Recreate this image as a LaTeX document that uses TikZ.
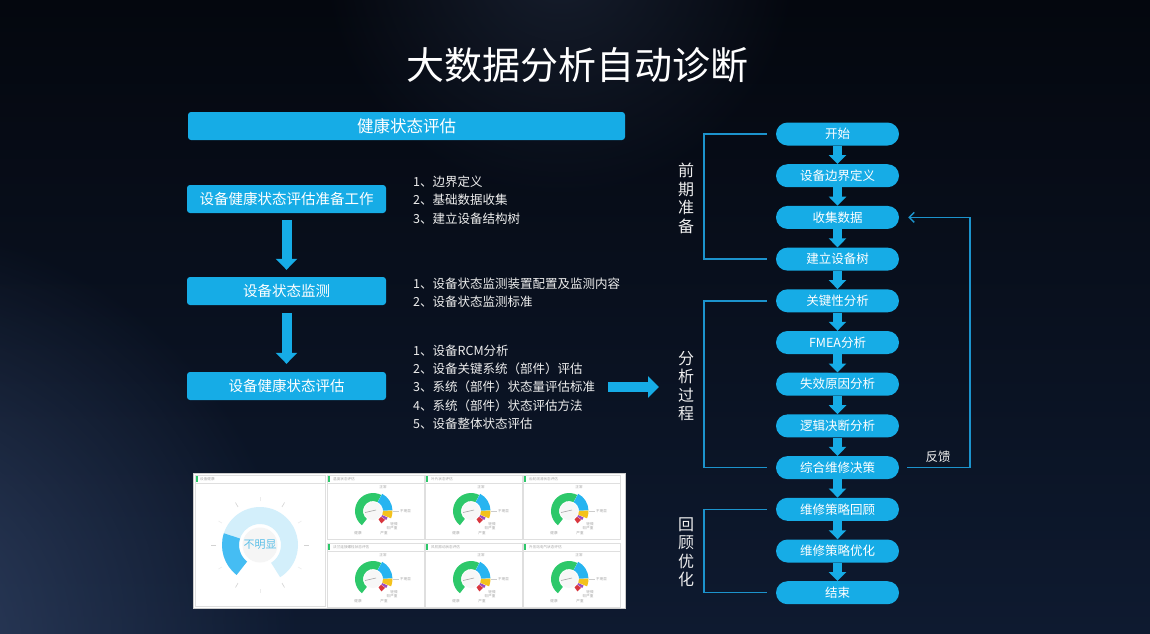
\documentclass[tikz,border=0pt]{standalone}
\usepackage{fontspec}
\setmainfont{Noto Sans CJK SC}
\usetikzlibrary{arrows.meta,fadings}

\definecolor{bgtop}{HTML}{04070E}
\definecolor{bgbot}{HTML}{0E1A30}
\definecolor{glow}{HTML}{3A4C70}
\definecolor{boxblue}{HTML}{16ACE6}
\definecolor{brkblue}{HTML}{1C93CC}
\definecolor{txtwhite}{HTML}{EEEEEE}
\definecolor{gGreen}{HTML}{2DC86A}
\definecolor{gBlue}{HTML}{27B4F0}
\definecolor{gYellow}{HTML}{F4C21C}
\definecolor{gPurple}{HTML}{9B4FC0}
\definecolor{gRed}{HTML}{D9363E}
\definecolor{ringLight}{HTML}{D3EFFB}
\definecolor{ringDark}{HTML}{45BDF3}
\definecolor{bmxText}{HTML}{5BBFE8}

\tikzfading[name=glowfade, inner color=transparent!25, outer color=transparent!100]

\tikzset{
  bluebox/.style={fill=boxblue, rounded corners=3pt, minimum width=199pt, minimum height=28pt,
    text=white, font=\fontsize{14.5}{16}\selectfont, inner sep=0pt},
  pill/.style={fill=boxblue, rounded corners=11.5pt, minimum width=123pt, minimum height=23pt,
    text=white, font=\fontsize{12.5}{14}\selectfont, inner sep=0pt},
  lst/.style={anchor=west, align=left, text=txtwhite, inner sep=0pt,
    font=\fontsize{12.5}{18.3}\selectfont},
  side/.style={align=center, text=txtwhite, inner sep=0pt, font=\fontsize{16}{18.5}\selectfont},
  bigarr/.style={boxblue, line width=10pt, -{Triangle[width=21pt,length=11pt]}},
  pillarr/.style={boxblue, line width=8.5pt, -{Triangle[width=17pt,length=9pt]}},
  brk/.style={brkblue, line width=1.5pt},
  tiny/.style={text=gray!70, inner sep=0pt, font=\fontsize{3.6}{4}\selectfont},
  panel/.style={draw=gray!25, fill=white, line width=0.6pt}
}

\begin{document}
\begin{tikzpicture}[x=1pt, y=-1pt]
    \useasboundingbox (0,0) rectangle (1150,633);
    \shade[top color=bgtop, bottom color=bgbot] (0,0) rectangle (1150,633);
    \fill[glow, path fading=glowfade] (-120,640) circle (420);
    \fill[glow!50!black, path fading=glowfade] (560,-40) circle (240);

    \node[text=white, inner sep=0pt, font=\fontsize{38}{40}\selectfont] (title) at (577,65) {大数据分析自动诊断};

    % left column
    \node[bluebox, minimum width=437pt, font=\fontsize{16.5}{18}\selectfont] (health) at (406.5,126) {健康状态评估};
    \node[bluebox] (prep) at (286.5,199) {设备健康状态评估准备工作};
    \node[bluebox] (mon) at (286.5,291) {设备状态监测};
    \node[bluebox] (eval) at (286.5,386) {设备健康状态评估};

    \draw[bigarr, shorten <=7pt, shorten >=7pt] (prep) -- (mon);
    \draw[bigarr, shorten <=8pt, shorten >=8pt] (mon) -- (eval);

    \node[lst] (lstA) at (413,200) {1、边界定义\\2、基础数据收集\\3、建立设备结构树};
    \node[lst] (lstB) at (413,292.5) {1、设备状态监测装置配置及监测内容\\2、设备状态监测标准};
    \node[lst] (lstC) at (413,387) {1、设备RCM分析\\2、设备关键系统（部件）评估\\3、系统（部件）状态量评估标准\\4、系统（部件）状态评估方法\\5、设备整体状态评估};

    \coordinate (toflow) at (608,387);
    \coordinate (atflow) at (659,387);
    \draw[bigarr] (toflow) -- (atflow);

    % flow chart
    \node[pill] (ks) at (837.5,134) {开始};
    \node[pill] (bj) at (837.5,175.7) {设备边界定义};
    \node[pill] (sj) at (837.5,217.4) {收集数据};
    \node[pill] (js) at (837.5,259.1) {建立设备树};
    \node[pill] (gj) at (837.5,300.8) {关键性分析};
    \node[pill] (fm) at (837.5,342.5) {FMEA分析};
    \node[pill] (sx) at (837.5,384.2) {失效原因分析};
    \node[pill] (lj) at (837.5,425.9) {逻辑决断分析};
    \node[pill] (zh) at (837.5,467.6) {综合维修决策};
    \node[pill] (hg) at (837.5,509.3) {维修策略回顾};
    \node[pill] (yh) at (837.5,551) {维修策略优化};
    \node[pill] (jsu) at (837.5,592.7) {结束};

    \draw[pillarr] (ks) -- (bj);
    \draw[pillarr] (bj) -- (sj);
    \draw[pillarr] (sj) -- (js);
    \draw[pillarr] (js) -- (gj);
    \draw[pillarr] (gj) -- (fm);
    \draw[pillarr] (fm) -- (sx);
    \draw[pillarr] (sx) -- (lj);
    \draw[pillarr] (lj) -- (zh);
    \draw[pillarr] (zh) -- (hg);
    \draw[pillarr] (hg) -- (yh);
    \draw[pillarr] (yh) -- (jsu);

    \draw[brk] ([xshift=-9pt]ks.west) -| ([xshift=-72pt]js.west) -- ([xshift=-9pt]js.west);
    \draw[brk] ([xshift=-9pt]gj.west) -| ([xshift=-72pt]zh.west) -- ([xshift=-9pt]zh.west);
    \draw[brk] ([xshift=-9pt]hg.west) -| ([xshift=-72pt]jsu.west) -- ([xshift=-9pt]jsu.west);

    \node[side] (qq) at (686,198.5) {前\\期\\准\\备};
    \node[side] (fx) at (686,386) {分\\析\\过\\程};
    \node[side] (hy) at (686,552) {回\\顾\\优\\化};

    \draw[brk, -{Straight Barb[length=5pt,width=10pt]}] ([xshift=8pt]zh.east) -- ([xshift=71pt]zh.east) |- ([xshift=9pt]sj.east);
    \node[text=txtwhite, inner sep=0pt, font=\fontsize{12.5}{14}\selectfont] (fk) at (938,457) {反馈};

    % screenshot
    \filldraw[draw=gray!40, fill=white] (193,473) rectangle (625,608);
    \filldraw[panel] (195,475) rectangle (325,606);
    \draw[gray!25] (195,483) -- (325,483);
    \fill[gGreen] (196,476) rectangle (197.5,481.5);
    \node[tiny, anchor=west] (sbA) at (200,479) {设备健康};
    \begin{scope}[shift={(260,545)}, y=1pt]
      \fill[ringLight] (232:38) arc[start angle=232, end angle=-58, radius=38] -- (-58:21) arc[start angle=-58, end angle=232, radius=21] -- cycle;
      \fill[ringDark] (232:38) arc[start angle=232, end angle=162, radius=38] -- (162:21) arc[start angle=162, end angle=232, radius=21] -- cycle;
      \fill[gray!8] (0,0) circle (17.5);
      \foreach \a in {0,60,...,300} \draw[gray!35, line width=0.6pt] (\a:44) -- (\a:49);
      \foreach \a in {30,90,...,330} \draw[gray!15, line width=0.6pt] (\a:44) -- (\a:48);
    \end{scope}
    \node[text=bmxText, inner sep=0pt, font=\fontsize{11}{12}\selectfont] (bmx) at (260,545) {不明显};

    \foreach \px/\py/\ttl in {327/475/温度状态评估, 425/475/叶片状态评估, 523/475/齿轮润滑状态评估,
        327/543/法兰连接螺栓状态评估, 425/543/风机振动状态评估, 523/543/升压站电气状态评估}{
      \filldraw[panel] (\px,\py) rectangle (\px+97,\py+64);
      \draw[gray!25] (\px,\py+8) -- (\px+97,\py+8);
      \fill[gGreen] (\px+1,\py+1) rectangle (\px+2.5,\py+6.5);
      \node[tiny, anchor=west] at (\px+6,\py+4) {\ttl};
      \begin{scope}[shift={(\px+46,\py+36)}, y=1pt]
        \fill[gGreen] (232:18) arc[start angle=232, end angle=63, radius=18] -- (63:10) arc[start angle=63, end angle=232, radius=10] -- cycle;
        \fill[gBlue] (62:19.5) arc[start angle=62, end angle=2, radius=19.5] -- (2:10) arc[start angle=2, end angle=62, radius=10] -- cycle;
        \fill[gYellow] (1:19.5) arc[start angle=1, end angle=-22, radius=19.5] -- (-22:10) arc[start angle=-22, end angle=1, radius=10] -- cycle;
        \fill[gPurple] (-24:16) arc[start angle=-24, end angle=-34, radius=16] -- (-34:10) arc[start angle=-34, end angle=-24, radius=10] -- cycle;
        \fill[gRed] (-36:15) arc[start angle=-36, end angle=-56, radius=15] -- (-56:10) arc[start angle=-56, end angle=-36, radius=10] -- cycle;
        \fill[gray!6] (0,0) circle (9);
        \draw[gray!70, line width=0.6pt] (-8,-1.5) -- (3,1);
        \draw[gray!40, line width=0.3pt] (20,0) -- (26,0);
      \end{scope}
      \node[tiny] at (\px+56,\py+12) {正常};
      \node[tiny, anchor=west] at (\px+73,\py+36) {不明显};
      \node[tiny] at (\px+67,\py+49) {轻微};
      \node[tiny] at (\px+65,\py+53) {较严重};
      \node[tiny] at (\px+57,\py+58) {严重};
      \node[tiny] at (\px+31,\py+58) {健康};
    }
\end{tikzpicture}
\end{document}
